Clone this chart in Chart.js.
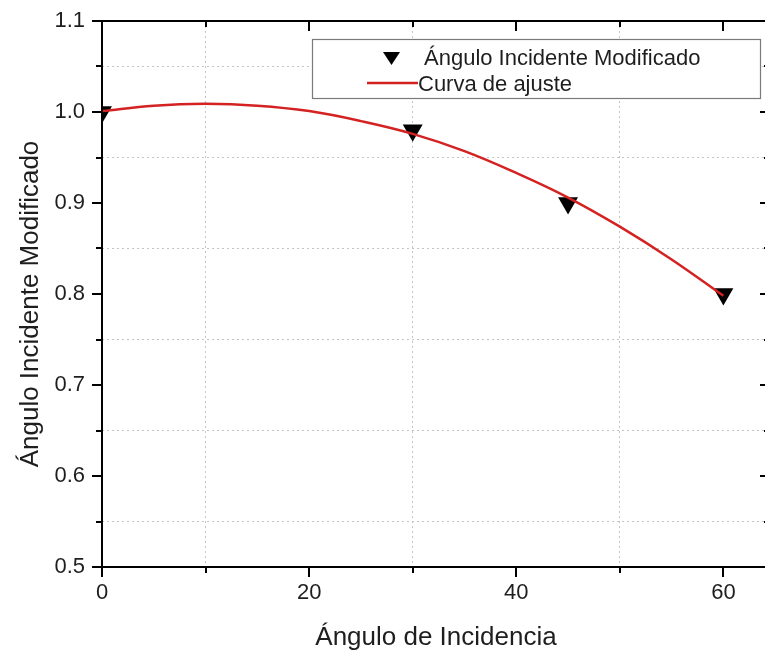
<!DOCTYPE html>
<html>
<head>
<meta charset="utf-8">
<script src="https://cdn.jsdelivr.net/npm/chart.js"></script>
<style>
  html, body { margin: 0; padding: 0; overflow: hidden; background: #fff; }
  #wrap { width: 785px; height: 654px; }
</style>
</head>
<body>
<div id="wrap"><canvas id="chart" width="785" height="654"></canvas></div>
<script>
// measured points
const measuredAngles = [0, 30, 45, 60];
const measuredIAM = [1.0, 0.98, 0.90, 0.80];

// fitted curve, every 5 degrees
const fitAngles = [0, 5, 10, 15, 20, 25, 30, 35, 40, 45, 50, 55, 60];
const fitIAM = [1.001, 1.007, 1.009, 1.007, 1.001, 0.990, 0.976, 0.957, 0.933, 0.906, 0.874, 0.838, 0.798];

// labelled ticks
const xLabels = [0, 20, 40, 60];
const yLabels = ['0.5', '0.6', '0.7', '0.8', '0.9', '1.0', '1.1'];

const FONT = 'Liberation Sans, Arial, sans-serif';
const TEXT = '#1e1e1e';
const GRID = '#c4c4c4';

const isMinorX = v => Math.round(v) % 20 === 10;
const isMinorY = v => Math.round(v * 100) % 10 === 5;

// frame, ticks on all four sides, y title, legend box
const framePlugin = {
  id: 'frame',
  afterDatasetsDraw(chart) {
    const { ctx, chartArea: a, scales: { x, y } } = chart;
    ctx.save();
    ctx.strokeStyle = '#000';
    ctx.lineWidth = 2;
    ctx.beginPath();
    ctx.rect(a.left, a.top, a.right - a.left, a.bottom - a.top);
    x.ticks.forEach(t => {
      if (Math.round(t.value) % 10 !== 0) return;
      const px = Math.round(x.getPixelForValue(t.value));
      const len = isMinorX(t.value) ? 6 : 10;
      ctx.moveTo(px, a.bottom); ctx.lineTo(px, a.bottom + len);
      ctx.moveTo(px, a.top); ctx.lineTo(px, a.top + len);
    });
    y.ticks.forEach(t => {
      const py = Math.round(y.getPixelForValue(t.value));
      const len = isMinorY(t.value) ? 6 : 10;
      ctx.moveTo(a.left, py); ctx.lineTo(a.left - len, py);
      ctx.moveTo(a.right, py); ctx.lineTo(a.right - len, py);
    });
    ctx.stroke();

    // y axis title
    ctx.save();
    ctx.translate(31, (a.top + a.bottom) / 2 + 10);
    ctx.rotate(-Math.PI / 2);
    ctx.fillStyle = TEXT;
    ctx.font = '26px ' + FONT;
    ctx.textAlign = 'center';
    ctx.textBaseline = 'middle';
    ctx.fillText('Ángulo Incidente Modificado', 0, 0);
    ctx.restore();

    // legend
    const ds = chart.data.datasets;
    ctx.fillStyle = '#fff';
    ctx.fillRect(312, 39, 448, 59);
    ctx.strokeStyle = '#7a7a7a';
    ctx.lineWidth = 1.2;
    ctx.strokeRect(312.5, 39.5, 448, 59);

    ctx.fillStyle = '#000';
    ctx.beginPath();
    ctx.moveTo(383, 52); ctx.lineTo(400, 52); ctx.lineTo(391.5, 65);
    ctx.closePath();
    ctx.fill();

    ctx.strokeStyle = ds[0].borderColor;
    ctx.lineWidth = 2.5;
    ctx.beginPath();
    ctx.moveTo(367, 83); ctx.lineTo(418, 83);
    ctx.stroke();

    ctx.fillStyle = TEXT;
    ctx.font = '22px ' + FONT;
    ctx.textAlign = 'left';
    ctx.textBaseline = 'alphabetic';
    ctx.fillText(ds[1].label, 424, 65);
    ctx.fillText(ds[0].label, 418, 91);
    ctx.restore();
  }
};

new Chart(document.getElementById('chart'), {
  type: 'scatter',
  data: {
    datasets: [
      {
        label: 'Curva de ajuste',
        data: fitAngles.map((v, i) => ({ x: v, y: fitIAM[i] })),
        showLine: true,
        borderColor: '#d42222',
        borderWidth: 2.5,
        pointRadius: 0,
        tension: 0.4,
        order: 0
      },
      {
        label: 'Ángulo Incidente Modificado',
        data: measuredAngles.map((v, i) => ({ x: v, y: measuredIAM[i] })),
        pointStyle: 'triangle',
        rotation: 180,
        pointRadius: 11.5,
        backgroundColor: '#000',
        borderColor: '#000',
        borderWidth: 0,
        clip: 0,
        order: 1
      }
    ]
  },
  options: {
    responsive: false,
    animation: false,
    layout: { padding: { left: 0, top: 21, right: 15, bottom: 0 } },
    plugins: { legend: { display: false }, tooltip: { enabled: false } },
    scales: {
      x: {
        type: 'linear',
        min: 0,
        max: 64.5,
        afterFit: s => {
          s.height = 87;
          s.paddingLeft = 0; s.paddingRight = 0; s.paddingTop = 0; s.paddingBottom = 0;
        },
        ticks: {
          stepSize: 10,
          includeBounds: false,
          autoSkip: false,
          maxRotation: 0,
          padding: 13,
          color: TEXT,
          font: { family: FONT, size: 22 },
          callback: v => xLabels.includes(v) ? String(v) : ''
        },
        grid: {
          drawTicks: false,
          lineWidth: 1,
          color: c => (c.tick && isMinorX(c.tick.value)) ? GRID : 'transparent'
        },
        border: { display: false, dash: [2, 3] },
        title: {
          display: true,
          text: 'Ángulo de Incidencia',
          color: TEXT,
          font: { family: FONT, size: 26 },
          padding: { top: 0, bottom: 1 }
        }
      },
      y: {
        type: 'linear',
        min: 0.5,
        max: 1.1,
        afterFit: s => {
          s.width = 102;
          s.paddingLeft = 0; s.paddingRight = 0; s.paddingTop = 0; s.paddingBottom = 0;
        },
        ticks: {
          stepSize: 0.05,
          autoSkip: false,
          padding: 17,
          color: TEXT,
          font: { family: FONT, size: 22 },
          callback: v => {
            const s = v.toFixed(1);
            return (!isMinorY(v) && yLabels.includes(s)) ? s : '';
          }
        },
        grid: {
          drawTicks: false,
          lineWidth: 1,
          color: c => (c.tick && isMinorY(c.tick.value)) ? GRID : 'transparent'
        },
        border: { display: false, dash: [2, 3] }
      }
    }
  },
  plugins: [framePlugin]
});
</script>
</body>
</html>
